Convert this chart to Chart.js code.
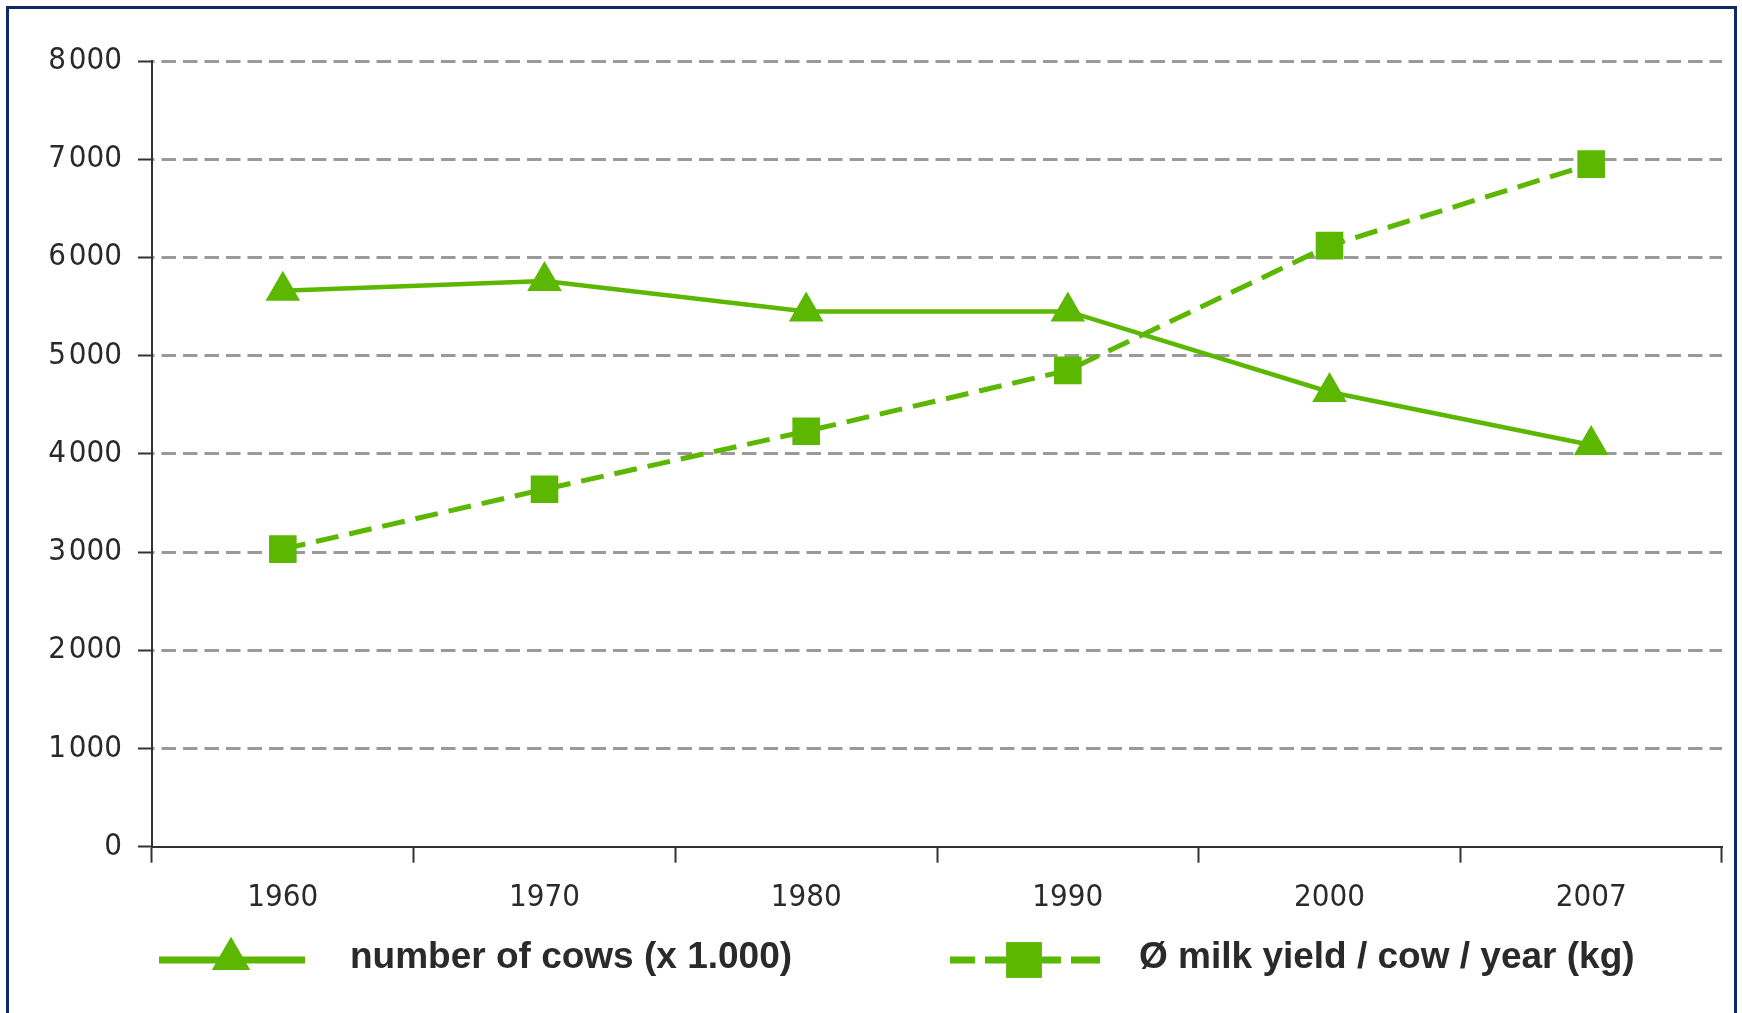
<!DOCTYPE html>
<html>
<head>
<meta charset="utf-8">
<title>Dairy cows and milk yield</title>
<script src="https://cdn.jsdelivr.net/npm/chart.js@4/dist/chart.umd.min.js"></script>
<style>
  html, body { margin: 0; padding: 0; background: #ffffff; }
  #wrap { position: relative; width: 1742px; height: 1013px; overflow: hidden; }
  #frame {
    position: absolute; left: 6px; top: 6px; width: 1731px; height: 1020px;
    border: 3px solid #10296b; box-sizing: border-box; pointer-events: none;
  }
  canvas { position: absolute; left: 0; top: 0; }
</style>
</head>
<body>
<div id="wrap">
  <canvas id="chart" width="1742" height="1013"></canvas>
  <div id="frame"></div>
</div>
<script>
// Years on the category axis
const years = ['1960', '1970', '1980', '1990', '2000', '2007'];

// Number of dairy cows, in thousands
const cows = [5660, 5760, 5450, 5450, 4630, 4090];

// Average milk yield per cow and year, in kg
const milkYield = [3030, 3640, 4230, 4850, 6120, 6950];

// Value-axis tick labels (0 … 8 000)
const yTickLabels = ['0', '1\u200A000', '2\u200A000', '3\u200A000', '4\u200A000',
                     '5\u200A000', '6\u200A000', '7\u200A000', '8\u200A000'];

// Legend entries
const legendCows = 'number of cows (x 1.000)';
const legendMilk = '\u00D8 milk yield / cow / year (kg)';

const GREEN = '#5cb700';
const AXIS = '#333333';
const TEXT = '#2a2a2a';
const GRID = '#9a9a9a';
const tickFont = "'Liberation Sans Narrow', 'DejaVu Sans Condensed', 'Roboto Condensed', 'Liberation Sans', sans-serif";

// Draws the legend row under the axis: line + marker, then bold label
const bottomLegend = {
  id: 'bottomLegend',
  afterDraw(chart) {
    const ctx = chart.ctx;
    const y = 960;
    ctx.save();
    ctx.strokeStyle = GREEN;
    ctx.fillStyle = GREEN;
    ctx.lineCap = 'butt';

    // solid line with triangle
    ctx.lineWidth = 7;
    ctx.beginPath();
    ctx.moveTo(159, y);
    ctx.lineTo(305, y);
    ctx.stroke();
    Chart.helpers.drawPoint(ctx, { pointStyle: 'triangle', radius: 22, rotation: 0, borderWidth: 0 }, 231, y - 1);
    ctx.fill();

    // dashed line with square
    [[950, 975], [985, 1061], [1071, 1100]].forEach(([a, b]) => {
      ctx.beginPath();
      ctx.moveTo(a, y);
      ctx.lineTo(b, y);
      ctx.stroke();
    });
    Chart.helpers.drawPoint(ctx, { pointStyle: 'rect', radius: 25, rotation: 0, borderWidth: 0 }, 1024, y);
    ctx.fill();

    ctx.fillStyle = TEXT;
    ctx.font = "bold 37px 'Liberation Sans', Arial, sans-serif";
    ctx.textBaseline = 'alphabetic';
    ctx.textAlign = 'left';
    ctx.fillText(legendCows, 350, 968);
    ctx.fillText(legendMilk, 1139, 968);
    ctx.restore();
  }
};

new Chart(document.getElementById('chart'), {
  type: 'line',
  data: {
    labels: years,
    datasets: [
      {
        label: legendCows,
        data: cows,
        borderColor: GREEN,
        backgroundColor: GREEN,
        borderWidth: 4.5,
        tension: 0,
        pointStyle: 'triangle',
        pointRadius: 20,
        pointHoverRadius: 20,
        pointBorderWidth: 0,
        pointBackgroundColor: GREEN
      },
      {
        label: legendMilk,
        data: milkYield,
        borderColor: GREEN,
        backgroundColor: GREEN,
        borderWidth: 5,
        borderDash: [23, 11],
        tension: 0,
        pointStyle: 'rect',
        pointRadius: 19.5,
        pointHoverRadius: 19.5,
        pointBorderWidth: 0,
        pointBackgroundColor: GREEN
      }
    ]
  },
  options: {
    responsive: false,
    animation: false,
    devicePixelRatio: 1,
    layout: { padding: { left: 0, right: 18, top: 61, bottom: 0 } },
    plugins: {
      legend: { display: false },
      tooltip: { enabled: false }
    },
    scales: {
      x: {
        type: 'category',
        offset: true,
        afterFit(scale) { scale.height = 166.3; },
        grid: {
          offset: true,
          drawOnChartArea: false,
          drawTicks: true,
          tickLength: 16,
          tickWidth: 2,
          tickColor: AXIS
        },
        border: { display: true, color: AXIS, width: 2 },
        ticks: {
          color: TEXT,
          padding: 17,
          font: { family: tickFont, size: 31 }
        }
      },
      y: {
        min: 0,
        max: 8000,
        afterFit(scale) { scale.width = 152; },
        grid: {
          color: (c) => (c.tick && c.tick.value === 0 ? 'rgba(0,0,0,0)' : GRID),
          lineWidth: 3,
          drawTicks: true,
          tickLength: 14,
          tickWidth: 2,
          tickColor: AXIS,
          tickBorderDash: []
        },
        border: { display: true, color: AXIS, width: 2, dash: [14.5, 7], dashOffset: 13 },
        ticks: {
          stepSize: 1000,
          color: TEXT,
          padding: 16,
          font: { family: tickFont, size: 31 },
          callback: (value) => yTickLabels[Math.round(value / 1000)]
        }
      }
    }
  },
  plugins: [bottomLegend]
});
</script>
</body>
</html>
